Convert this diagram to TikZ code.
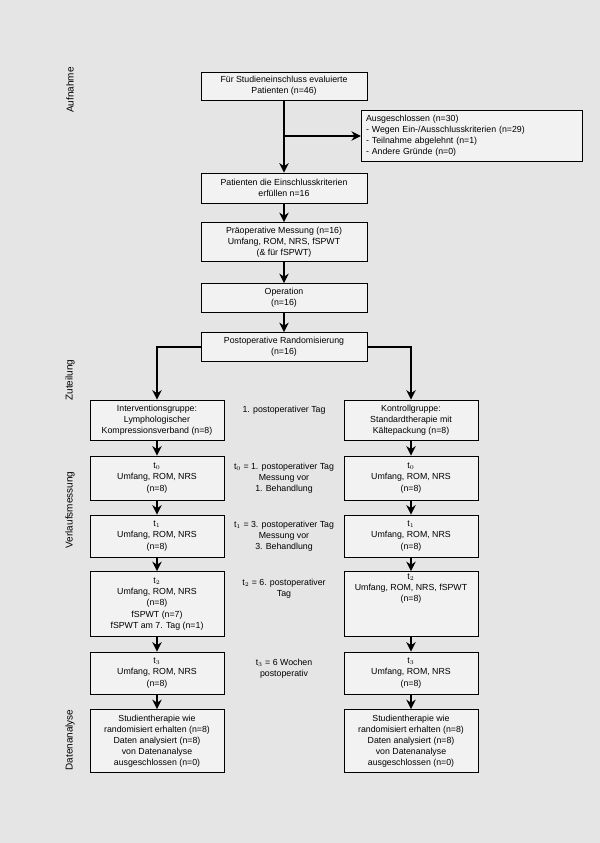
\documentclass[tikz,border=0pt]{standalone}
\usepackage{fontspec}
\setmainfont{Liberation Sans}
\usetikzlibrary{arrows.meta}
\begin{document}
\begin{tikzpicture}[x=0.03cm,y=-0.03cm,
    box/.style={draw, thick, fill=black!5, align=center, inner sep=1pt,
        font=\fontsize{7.5}{9.5}\selectfont},
    note/.style={align=center, font=\fontsize{7.5}{9.5}\selectfont},
    side/.style={rotate=90, font=\fontsize{8.5}{10}\selectfont},
    flow/.style={-{Stealth[length=8pt,width=8pt]}, very thick}]
    % Hintergrund
    \fill[black!10] (0,0) rectangle (600,843);
    \useasboundingbox (0,0) rectangle (600,843);

    % Aufnahme
    \node[box, minimum width=166*0.03cm, minimum height=28*0.03cm] (screen) at (284,86)
        {Für Studieneinschluss evaluierte\\Patienten (n=46)};
    \node[box, minimum height=50*0.03cm, align=left, text width=212*0.03cm, inner sep=4pt] (excl) at (472,136)
        {Ausgeschlossen (n=30)\\- Wegen Ein-/Ausschlusskriterien (n=29)\\- Teilnahme abgelehnt (n=1)\\- Andere Gründe (n=0)};
    \node[box, minimum width=166*0.03cm, minimum height=30*0.03cm] (incl) at (284,188)
        {Patienten die Einschlusskriterien\\erfüllen n=16};
    \node[box, minimum width=166*0.03cm, minimum height=39*0.03cm] (pre) at (284,242)
        {Präoperative Messung (n=16)\\Umfang, ROM, NRS, fSPWT\\(\& für fSPWT)};
    \node[box, minimum width=166*0.03cm, minimum height=29*0.03cm] (op) at (284,298)
        {Operation\\(n=16)};
    \node[box, minimum width=166*0.03cm, minimum height=29*0.03cm] (rand) at (284,347)
        {Postoperative Randomisierung\\(n=16)};

    % Gruppen
    \node[box, minimum width=134*0.03cm, minimum height=40*0.03cm] (il) at (157,420)
        {Interventionsgruppe:\\Lymphologischer\\Kompressionsverband (n=8)};
    \node[box, minimum width=134*0.03cm, minimum height=40*0.03cm] (kl) at (411,420)
        {Kontrollgruppe:\\Standardtherapie mit\\Kältepackung (n=8)};
    \node[box, minimum width=134*0.03cm, minimum height=44*0.03cm] (i0) at (157,478)
        {t$_0$\\Umfang, ROM, NRS\\(n=8)};
    \node[box, minimum width=134*0.03cm, minimum height=44*0.03cm] (k0) at (411,478)
        {t$_0$\\Umfang, ROM, NRS\\(n=8)};
    \node[box, minimum width=134*0.03cm, minimum height=42*0.03cm] (i1) at (157,536)
        {t$_1$\\Umfang, ROM, NRS\\(n=8)};
    \node[box, minimum width=134*0.03cm, minimum height=42*0.03cm] (k1) at (411,536)
        {t$_1$\\Umfang, ROM, NRS\\(n=8)};
    \node[box, minimum width=134*0.03cm, minimum height=65*0.03cm] (i2) at (157,604)
        {t$_2$\\Umfang, ROM, NRS\\(n=8)\\fSPWT (n=7)\\fSPWT am 7. Tag (n=1)};
    \node[box, minimum width=134*0.03cm, minimum height=65*0.03cm, text depth=28pt] (k2) at (411,604)
        {t$_2$\\Umfang, ROM, NRS, fSPWT\\(n=8)};
    \node[box, minimum width=134*0.03cm, minimum height=42*0.03cm] (i3) at (157,673)
        {t$_3$\\Umfang, ROM, NRS\\(n=8)};
    \node[box, minimum width=134*0.03cm, minimum height=42*0.03cm] (k3) at (411,673)
        {t$_3$\\Umfang, ROM, NRS\\(n=8)};
    \node[box, minimum width=134*0.03cm, minimum height=63*0.03cm] (ia) at (157,741)
        {Studientherapie wie\\randomisiert erhalten (n=8)\\Daten analysiert (n=8)\\von Datenanalyse\\ausgeschlossen (n=0)};
    \node[box, minimum width=134*0.03cm, minimum height=63*0.03cm] (ka) at (411,741)
        {Studientherapie wie\\randomisiert erhalten (n=8)\\Daten analysiert (n=8)\\von Datenanalyse\\ausgeschlossen (n=0)};

    % Zeitpunkte
    \node[note] (z1) at (284,410) {1. postoperativer Tag};
    \node[note] (z2) at (284,478) {t$_0$ = 1. postoperativer Tag\\Messung vor\\1. Behandlung};
    \node[note] (z3) at (284,536) {t$_1$ = 3. postoperativer Tag\\Messung vor\\3. Behandlung};
    \node[note] (z4) at (284,589) {t$_2$ = 6. postoperativer\\Tag};
    \node[note] (z5) at (284,669) {t$_3$ = 6 Wochen\\postoperativ};

    % Phasen
    \node[side] (p1) at (70,90) {Aufnahme};
    \node[side] (p2) at (70,380) {Zuteilung};
    \node[side] (p3) at (70,510) {Verlaufsmessung};
    \node[side] (p4) at (70,740) {Datenanalyse};

    % Pfeile
    \coordinate (split) at (screen.south |- excl.west);
    \draw[flow] (screen) -- (incl);
    \draw[flow] (split) -- (excl.west);
    \draw[flow] (incl) -- (pre);
    \draw[flow] (pre) -- (op);
    \draw[flow] (op) -- (rand);
    \draw[flow] (rand.west) -| (il.north);
    \draw[flow] (rand.east) -| (kl.north);
    \foreach \a/\b in {il/i0,i0/i1,i1/i2,i2/i3,i3/ia,kl/k0,k0/k1,k1/k2,k2/k3,k3/ka}
        \draw[flow] (\a) -- (\b);
\end{tikzpicture}
\end{document}
